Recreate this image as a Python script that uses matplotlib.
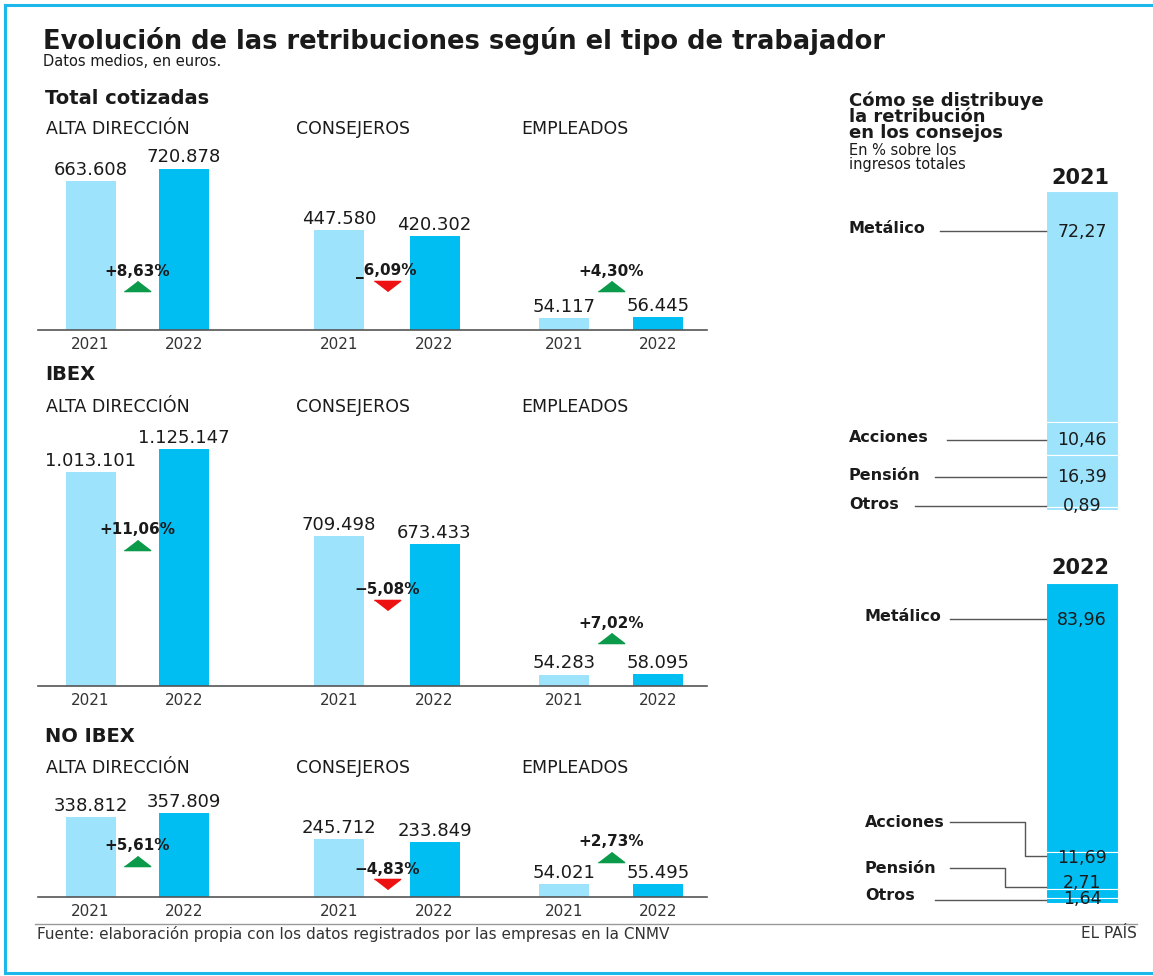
import numpy as np
import matplotlib
matplotlib.use("Agg")
import matplotlib.pyplot as plt
from matplotlib.lines import Line2D

# ---- data ----
years = ["2021", "2022"]
groups = ["ALTA DIRECCIÓN", "CONSEJEROS", "EMPLEADOS"]
sections = ["Total cotizadas", "IBEX", "NO IBEX"]

total_2021 = [663608, 447580, 54117]
total_2022 = [720878, 420302, 56445]
ibex_2021 = [1013101, 709498, 54283]
ibex_2022 = [1125147, 673433, 58095]
noibex_2021 = [338812, 245712, 54021]
noibex_2022 = [357809, 233849, 55495]

pct_total = ["+8,63%", "_6,09%", "+4,30%"]
pct_ibex = ["+11,06%", "−5,08%", "+7,02%"]
pct_noibex = ["+5,61%", "−4,83%", "+2,73%"]

dist_parts = ["Metálico", "Acciones", "Pensión", "Otros"]
dist_2021 = [72.27, 10.46, 16.39, 0.89]
dist_2022 = [83.96, 11.69, 2.71, 1.64]

# ---- style / layout ----
W, H = 1153, 976
LIGHT = "#9de3fb"
DARK = "#00bdf2"
INK = "#1a1a1a"
GREEN = "#0b9a4a"
RED = "#ee1111"
FRAME = "#1cb8ea"

plt.rcParams['font.family'] = ['DejaVu Sans']

fig = plt.figure(figsize=(W / 100, H / 100), dpi=100)


def fx(x):
    return x / W


def fy(y):
    return 1 - y / H


def txt(x, y, s, **kw):
    kw.setdefault("va", "center")
    kw.setdefault("color", INK)
    fig.text(fx(x), fy(y), s, **kw)


def fmt(v):
    return f"{v:,}".replace(",", ".")


# frame
for xs, ys in [([5, W], [5, 5]), ([5, 5], [5, 973]), ([5, W], [973, 973])]:
    fig.add_artist(Line2D([fx(x) for x in xs], [fy(y) for y in ys],
                          color=FRAME, lw=2.2, transform=fig.transFigure))

# titles
txt(43, 41, "Evolución de las retribuciones según el tipo de trabajador",
    fontsize=18.5, fontweight="bold")
txt(43, 62, "Datos medios, en euros.", fontsize=10.5)

# ---- left: three sections of grouped bars ----
sec_vals = [(total_2021, total_2022), (ibex_2021, ibex_2022), (noibex_2021, noibex_2022)]
sec_pct = [pct_total, pct_ibex, pct_noibex]
sec_base = [330, 686, 897]
sec_scale = [2.24e-4, 2.11e-4, 2.35e-4]   # px per euro
sec_title_y = [99, 375, 737]
head_y = [129, 407, 768]
pct_y = [[271, 271, 271], [530, 590, 623], [846, 869, 842]]
group_x = [(90.5, 184), (339, 434.5), (564, 658)]
head_x = [46, 296, 521]
AX_H = 300
X0, X1 = 38, 707
BAR_W = 50
tri = [(-1, -0.385), (1, -0.385), (0, 0.385)]
tri_dn = [(-1, 0.385), (1, 0.385), (0, -0.385)]

for s in range(3):
    base, scale = sec_base[s], sec_scale[s]
    v21, v22 = sec_vals[s]
    txt(45, sec_title_y[s], sections[s], fontsize=14, fontweight="bold")
    for g in range(3):
        txt(head_x[g], head_y[s], groups[g], fontsize=12.5)

    ax = fig.add_axes([fx(X0), fy(base), fx(X1) - fx(X0), AX_H / H])
    ax.patch.set_visible(False)
    ax.set_xlim(X0, X1)
    ax.set_ylim(0, AX_H / scale)
    xs21 = [p[0] for p in group_x]
    xs22 = [p[1] for p in group_x]
    ax.bar(xs21, v21, width=BAR_W, color=LIGHT)
    ax.bar(xs22, v22, width=BAR_W, color=DARK)
    for x, v in list(zip(xs21, v21)) + list(zip(xs22, v22)):
        ax.annotate(fmt(v), (x, v), xytext=(0, 1.5), textcoords="offset points",
                    ha="center", va="bottom", fontsize=13, color=INK,
                    annotation_clip=False)
    for g in range(3):
        cx = np.mean(group_x[g])
        yl = (base - pct_y[s][g]) / scale
        ax.text(cx, yl, sec_pct[s][g], ha="center", va="center",
                fontsize=11, fontweight="bold", color=INK)
        up = v22[g] >= v21[g]
        ax.plot([cx], [yl - 15 / scale], marker=tri if up else tri_dn,
                markersize=19, color=GREEN if up else RED, clip_on=False)
    for sp in ["top", "left", "right"]:
        ax.spines[sp].set_visible(False)
    ax.spines["bottom"].set_color("#555555")
    ax.spines["bottom"].set_linewidth(1.2)
    ax.set_yticks([])
    ax.set_xticks(xs21 + xs22, labels=[years[0]] * 3 + [years[1]] * 3)
    ax.tick_params(axis="x", length=0, pad=5, labelsize=11, labelcolor="#333333")

# ---- right: distribution in boards ----
fig.text(fx(849), fy(91), "Cómo se distribuye\nla retribución\nen los consejos",
         fontsize=13, fontweight="bold", color=INK, va="top", linespacing=0.88)
fig.text(fx(849), fy(143), "En % sobre los\ningresos totales",
         fontsize=10.5, color=INK, va="top", linespacing=0.95)

dist = [dist_2021, dist_2022]
dist_top = [191, 583]
dist_bot = [510, 903]
year_y = [178, 568]
bar_cx = 1082
lab_x = [849, 865]
val_y = [[87.1, 21.9, 10.3, 1.25], [88.4, 14.1, 6.25, 1.25]]
lab_y = [[88.1, 22.6, 10.7, 1.6], [89.4, 25.3, 10.9, 2.2]]
# leader lines (x px, y %)
leaders = [
    [([940, 1046], [87.5, 87.5]), ([947, 1046], [21.9, 21.9]),
     ([935, 1046], [10.3, 10.3]), ([915, 1046], [1.3, 1.3])],
    [([950, 1046], [88.8, 88.8]), ([950, 1025, 1025, 1046], [25.3, 25.3, 14.7, 14.7]),
     ([950, 1005, 1005, 1046], [10.9, 10.9, 5.0, 5.0]), ([935, 1046], [0.94, 0.94])],
]

for k in range(2):
    top, bot = dist_top[k], dist_bot[k]
    txt(1080, year_y[k], years[k], fontsize=15, fontweight="bold", ha="center")
    ax = fig.add_axes([fx(840), fy(bot), fx(1120) - fx(840), (bot - top) / H])
    ax.patch.set_visible(False)
    ax.axis("off")
    ax.set_xlim(840, 1120)
    ax.set_ylim(0, 100)
    vals = dist[k]
    color = LIGHT if k == 0 else DARK
    for i, v in enumerate(vals):
        bottom = sum(vals[i + 1:])
        ax.bar(bar_cx, v, bottom=bottom, width=72, color=color,
               edgecolor="white", linewidth=0.8)
        ax.text(bar_cx, val_y[k][i], f"{v:.2f}".replace(".", ","), ha="center",
                va="center", fontsize=12.5, color=INK, clip_on=False)
        ax.text(lab_x[k], lab_y[k][i], dist_parts[i], ha="left", va="center",
                fontsize=11.5, fontweight="bold", color=INK, clip_on=False)
        lx, ly = leaders[k][i]
        ax.plot(lx, ly, color="#555555", lw=1, clip_on=False)

# footer
fig.add_artist(Line2D([fx(35), fx(1137)], [fy(924), fy(924)], color="#999999",
                      lw=1, transform=fig.transFigure))
txt(37, 934, "Fuente: elaboración propia con los datos registrados por las empresas en la CNMV",
    fontsize=11, color="#333333")
txt(1137, 934, "EL PAÍS", fontsize=11, color="#333333", ha="right")

fig.savefig("out.png", dpi=100)
